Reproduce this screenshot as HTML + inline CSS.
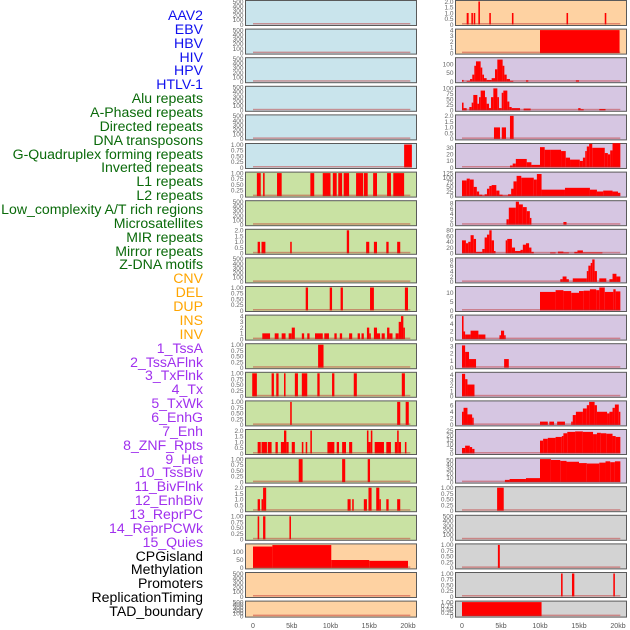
<!DOCTYPE html>
<html><head><meta charset="utf-8"><style>
body{margin:0;background:#fff;}
#lab div{position:absolute;right:427px;font-family:"Liberation Sans",sans-serif;font-size:14.1px;line-height:14px;white-space:nowrap;}
</style></head><body>
<div id="lab" style="position:absolute;left:0;top:0;width:630px;height:630px"></div>
<svg id="chart" width="630" height="630" style="position:absolute;left:0;top:0" xmlns="http://www.w3.org/2000/svg"></svg>
<script>
const labels=["AAV2","EBV","HBV","HIV","HPV","HTLV-1","Alu repeats","A-Phased repeats","Directed repeats","DNA transposons","G-Quadruplex forming repeats","Inverted repeats","L1 repeats","L2 repeats","Low_complexity A/T rich regions","Microsatellites","MIR repeats","Mirror repeats","Z-DNA motifs","CNV","DEL","DUP","INS","INV","1_TssA","2_TssAFlnk","3_TxFlnk","4_Tx","5_TxWk","6_EnhG","7_Enh","8_ZNF_Rpts","9_Het","10_TssBiv","11_BivFlnk","12_EnhBiv","13_ReprPC","14_ReprPCWk","15_Quies","CPGisland","Methylation","Promoters","ReplicationTiming","TAD_boundary"];
const labelGroups=[6,13,5,15,5];
const groupColors=["#1010ee","#0a6a0a","#ffa500","#a030ee","#000000"];
const xTickLabels=["0","5kb","10kb","15kb","20kb"];
const xTickValues=[0,5,10,15,20];
const T500=["0","100","200","300","400","500"], T1=["0","0.25","0.50","0.75","1.00"], T2=["0","0.5","1.0","1.5","2.0"];
const leftBg=["#c9e4ec","#c9e4ec","#c9e4ec","#c9e4ec","#c9e4ec","#c9e4ec","#c9e2a3","#c9e2a3","#c9e2a3","#c9e2a3","#c9e2a3","#c9e2a3","#c9e2a3","#c9e2a3","#c9e2a3","#c9e2a3","#c9e2a3","#c9e2a3","#c9e2a3","#fed2a2","#fed2a2","#fed2a2"];
const rightBg=["#fed2a2","#fed2a2","#d6c6e2","#d6c6e2","#d6c6e2","#d6c6e2","#d6c6e2","#d6c6e2","#d6c6e2","#d6c6e2","#d6c6e2","#d6c6e2","#d6c6e2","#d6c6e2","#d6c6e2","#d6c6e2","#d6c6e2","#d3d3d3","#d3d3d3","#d3d3d3","#d3d3d3","#d3d3d3"];
const leftMax=[500,500,500,500,500,1,1,500,2,500,1,4,1,1,1,2,1,2,1,140,500,500];
const leftTicks=[T500,T500,T500,T500,T500,T1,T1,T500,T2,T500,T1,["0","1","2","3","4"],T1,T1,T1,T2,T1,T2,T1,["0","50","100"],T500,T500];
const leftSegs=[[],[],[],[],[],
[[19.5,20.5,1]],
[[0.5,1.0,1],[1.3,1.5,1],[3.1,3.7,1],[7.4,7.9,1],[9.0,10.0,1],[10.3,10.8,1],[11.0,11.5,1],[11.7,12.4,1],[13.3,14.2,1],[14.3,14.8,1],[15.5,16.0,1],[17.3,17.8,1],[18.1,19.5,1]],
[],
[[0.6,0.9,1],[1.1,1.6,1],[4.8,5.0,1],[12.1,12.4,2],[14.6,15.0,1],[15.6,16.0,1],[17.2,17.5,1],[18.6,19.0,1]],
[],
[[6.8,7.1,1],[9.9,10.2,1],[11.3,11.6,1],[15.1,15.6,1],[19.6,20.0,1]],
[[1.2,2.2,1],[2.8,3.3,1],[3.7,4.2,1],[4.6,5.0,1],[5.0,5.4,2],[6.3,6.6,1],[7.0,7.3,1],[8.0,9.0,1],[9.2,9.8,1],[10.5,10.8,1],[11.2,11.5,1],[12.4,12.8,1],[13.5,13.8,1],[14.0,14.3,1],[14.7,15.0,2],[15.0,15.2,1],[15.6,16.0,2],[16.0,16.4,1],[16.6,17.0,1],[17.3,17.6,2],[17.6,18.0,1],[18.4,18.8,1],[18.8,19.1,3],[19.1,19.4,4],[19.4,19.6,2]],
[[8.4,9.1,1]],
[[-0.1,0.5,1],[2.4,2.7,1],[3.0,3.3,1],[4.0,4.2,1],[5.4,5.8,1],[6.3,7.0,1],[8.3,8.6,1],[10.2,10.5,1],[13.0,13.4,1],[19.2,19.6,1]],
[[4.8,5.0,1],[18.6,19.0,1],[19.7,20.1,1]],
[[0.6,1.0,1],[1.1,1.8,1],[1.9,2.4,1],[2.9,3.2,1],[3.6,4.0,1],[4.0,4.3,2],[4.3,4.6,1],[5.0,5.4,1],[6.3,6.5,1],[6.8,7.0,1],[7.4,7.6,2],[9.6,10.5,1],[10.8,11.1,1],[11.5,12.0,1],[12.4,12.8,1],[14.7,14.9,2],[14.9,15.2,1],[15.2,15.4,2],[15.7,16.0,1],[16.0,16.9,1],[17.2,17.8,1],[18.3,18.6,1],[18.6,18.8,2],[18.8,19.1,1],[19.6,19.8,1]],
[[5.9,6.4,1],[11.5,11.9,1],[14.8,15.1,1]],
[[0.6,0.9,1],[1.1,1.3,1],[1.3,1.7,2],[12.2,12.6,1],[12.8,13.0,1],[14.3,14.7,1],[14.9,15.3,2],[15.9,16.3,2],[16.3,16.5,1],[17.2,17.5,1],[18.6,19.0,1]],
[[0.6,0.8,1],[1.3,1.6,1],[4.7,4.9,1]],
[[0,2.5,130],[2.5,10.1,139],[10.1,15,48],[15,20,43]],
[],[]];
const rightMax=[2,4,130,105,2,35,125,8.5,80,8.5,13,6,3.2,4.3,7,25,52,1,500,1,1,1];
const rightTicks=[T2,["0","1","2","3","4"],["0","50","100"],["0","25","50","75","100"],T2,["0","10","20","30"],["0","25","50","75","100","125"],["0","2","4","6","8"],["0","20","40","60","80"],["0","2","4","6","8"],["0","5","10"],["0","2","4","6"],["0","1","2","3"],["0","1","2","3","4"],["0","2","4","6"],["0","5","10","15","20","25"],["0","10","20","30","40","50"],T1,T500,T1,T1,T1];
const rightSegs=[
[[0.6,0.85,1],[1.2,1.4,1],[1.5,1.7,1],[2.1,2.3,2],[3.5,3.7,1],[6.4,6.6,1],[13.4,13.6,1],[18.3,18.5,1]],
[[10,20.2,4]],
[[0,0.2,10],[0.6,1.03,5],[1.03,1.32,15],[1.32,1.58,40],[1.58,1.79,90],[1.79,2.39,115],[2.39,2.6,80],[2.6,2.82,40],[2.82,3.16,20],[3.16,3.8,10],[3.8,4.23,20],[4.23,4.53,70],[4.53,5.21,125],[5.21,5.43,90],[5.43,5.73,40],[5.73,6.15,15],[6.15,6.58,5],[8.2,8.5,8],[14.6,15.0,8]],
[[0,0.2,35],[0.2,0.6,10],[0.94,1.24,15],[1.24,1.45,35],[1.45,1.97,70],[1.97,2.18,30],[2.18,2.39,60],[2.39,2.95,90],[2.95,3.16,60],[3.16,3.46,30],[3.46,3.72,10],[3.72,4.02,60],[4.02,4.53,100],[4.53,4.74,60],[4.74,5.09,10],[5.09,5.3,80],[5.3,5.81,90],[5.81,6.07,40],[6.07,6.37,15],[6.37,7.44,10],[7.9,8.8,8],[14.9,15.2,10],[15.2,15.6,5],[17.6,18.4,6]],
[[4.1,4.87,1],[5.1,5.64,1],[6.15,6.62,2]],
[[6.15,6.5,3],[6.5,6.9,6],[6.9,8.3,13],[8.3,8.9,8],[8.9,10,4],[10,10.6,31],[10.6,11.3,27],[11.3,12.7,27],[12.7,13.3,25],[13.3,13.85,15],[13.85,15.1,12],[15.1,15.5,10],[15.5,15.8,15],[15.8,16.0,25],[16.0,16.3,32],[16.3,16.7,36],[16.7,18.3,30],[18.3,18.7,22],[18.7,19.0,20],[19.0,19.3,26],[19.3,20.3,37]],
[[0,0.6,85],[0.6,1.0,95],[1.0,1.5,90],[1.5,1.9,50],[1.9,2.2,25],[2.2,2.6,8],[2.6,2.9,3],[2.9,3.2,10],[3.2,3.5,40],[3.5,3.8,55],[3.8,4.4,60],[4.4,4.8,30],[4.8,5.2,8],[5.2,5.9,3],[5.9,6.3,10],[6.3,6.6,40],[6.6,7.0,80],[7.0,7.6,110],[7.6,9.2,100],[9.2,9.6,90],[9.6,10.2,120],[10.2,13.2,35],[13.2,16.4,45],[16.4,17.3,35],[17.3,18.1,25],[18.1,19.3,30],[19.3,20.0,25],[20.0,20.3,18]],
[[5.7,6.0,2],[6.0,6.9,6.3],[6.9,7.3,8.5],[7.3,7.8,7.5],[7.8,8.3,6.5],[8.3,8.7,5],[8.7,8.9,2.5],[13.0,13.4,1]],
[[0,0.5,45],[0.5,0.8,35],[0.8,1.1,40],[1.1,1.5,63],[1.5,1.8,50],[1.8,2.6,5],[2.6,2.9,15],[2.9,3.2,55],[3.2,3.5,65],[3.5,3.8,80],[3.8,4.1,45],[4.1,4.3,8],[5.6,5.8,45],[5.8,6.4,50],[6.4,6.8,20],[6.8,7.5,8],[7.5,7.8,12],[7.8,8.2,30],[8.2,8.6,35],[8.6,8.9,20],[8.9,9.2,5],[11.3,12,3],[12.3,13,6],[13,13.7,3],[14.4,14.8,5],[14.8,15.5,10],[15.5,18,3]],
[[12.6,12.9,1],[12.9,13.4,2],[13.4,13.7,1],[14.2,16.0,1.3],[16.0,16.2,4],[16.2,16.5,6],[16.5,16.7,7],[16.7,17.0,8.3],[17.0,17.3,4],[17.6,18.5,1.3],[18.9,19.3,1],[19.3,19.8,3],[19.8,20.3,2]],
[[10,12,10.5],[12,13,11.5],[13,14,11],[14,15,10],[15,15.6,11],[15.6,16.4,11.2],[16.4,17.2,12],[17.2,17.6,11.5],[17.6,18.3,13],[18.3,19.4,10.5],[19.4,19.7,12],[19.7,20.3,10.8]],
[[0,0.2,6],[0.2,0.4,2],[0.4,1.1,1.2],[1.1,2.1,2.2],[2.1,3.0,1.2],[4.8,5.0,1],[5.0,5.4,2.2],[5.4,5.6,1]],
[[0,0.4,3.1],[0.4,0.9,2.2],[0.9,1.8,1.2],[5.4,6.0,1.2]],
[[0,0.4,4.2],[0.4,0.7,3.2],[0.7,1.6,2.2]],
[[0,0.2,4],[0.2,0.7,5.2],[0.7,1.3,3.2],[1.3,1.5,2.2],[10.0,11.0,1],[11.2,11.8,1],[12.2,13.2,1],[14.0,14.2,1],[14.2,14.6,3],[14.6,15.5,4],[15.5,16.0,5],[16.0,16.3,6],[16.3,17.0,7],[17.0,17.3,6],[17.3,18.6,4],[18.6,18.9,3.5],[18.9,19.3,4],[19.3,19.6,5.2],[19.6,20.1,6.2],[20.1,20.3,4]],
[[0,0.4,6],[0.4,1.0,8.5],[1.0,1.3,7],[1.3,1.6,5],[10,10.4,14],[10.4,11,16],[11,12,17],[12,12.8,18],[12.8,13,19],[13,13.5,22],[13.5,14.5,23.5],[14.5,15.5,24],[15.5,16.8,23.5],[16.8,17.3,21],[17.3,17.8,22.5],[17.8,18.5,22],[18.5,19.3,21.5],[19.3,19.7,19],[19.7,20.3,18]],
[[5.5,6.1,5],[6.1,8.2,7],[8.2,10,9],[10,11.4,52],[11.4,12.6,50],[12.6,13.4,48],[13.4,15.0,46],[15.0,16.0,43],[16.0,17.6,42],[17.6,18.4,44],[18.4,19.0,47],[19.0,19.6,45],[19.6,20.3,47]],
[[4.5,5.35,1]],
[],
[[4.6,4.85,1]],
[[12.7,12.9,1],[14.1,14.4,1],[19.4,19.6,1]],
[[0,10.2,1]]];

const NS="http://www.w3.org/2000/svg";
const svg=document.getElementById('chart');
function mk(tag,attrs,parent){const e=document.createElementNS(NS,tag);for(const k in attrs)e.setAttribute(k,attrs[k]);(parent||svg).appendChild(e);return e;}
const lab=document.getElementById('lab');
let gi=0,cnt=0;
labels.forEach((t,i)=>{
  while(cnt>=labelGroups[gi]){cnt=0;gi++;}
  cnt++;
  const d=document.createElement('div');
  d.textContent=t;
  d.style.top=(15+i*13.86-7)+'px';
  d.style.color=groupColors[gi];
  
  
  lab.appendChild(d);
});
function panelTop(i){return 0.5+i*28.6;}
function panelH(i){return i===21?16:25;}
function drawCol(x0,x1,zeroX,pxPerKb,bg,maxs,ticks,segs,side){
  const xs=kb=>zeroX+kb*pxPerKb;
  for(let i=0;i<22;i++){
    const top=panelTop(i),h=panelH(i);
    const g=mk('g',{});
    
    
    const bgR=mk('rect',{x:x0,y:top,width:x1-x0,height:h,fill:bg[i],stroke:'#5a5a5a','stroke-width':1},g);
    
    
    const bottom=top+h-1,inner=h-2;
    const ys=v=>bottom-v/maxs[i]*inner;
    segs[i].forEach(s=>{
      const a=Math.max(xs(s[0]),x0+1),b=Math.min(xs(s[1]),x1-1);
      const r=mk('rect',{x:a,y:ys(s[2]),width:Math.max(b-a,1.2),height:bottom-ys(s[2]),fill:'#ff0000'},g);
      
      
    });
    const bl=mk('rect',{x:xs(0),y:bottom-1.5,width:xs(20.3)-xs(0),height:1.5,fill:'rgba(190,40,40,0.45)'},g);
    
    
    ticks[i].forEach(t=>{
      const v=parseFloat(t);
      const y=bottom-(v/maxs[i])*inner;
      const tt=mk('text',{x:x0-2,y:y+2.3,'text-anchor':'end','font-size':6.5,fill:'#666','font-family':'Liberation Sans, sans-serif'},g);
      tt.textContent=t;
      
      
    });
  }
  xTickValues.forEach((v,k)=>{
    const t=mk('text',{x:xs(v),y:628,'text-anchor':'middle','font-size':7,fill:'#555','font-family':'Liberation Sans, sans-serif'});
    t.textContent=xTickLabels[k];
    
    
  });
}
drawCol(245.5,416.5,253,7.75,leftBg,leftMax,leftTicks,leftSegs,'left');
drawCol(455.5,626.5,462,7.8,rightBg,rightMax,rightTicks,rightSegs,'right');
</script>
</body></html>
